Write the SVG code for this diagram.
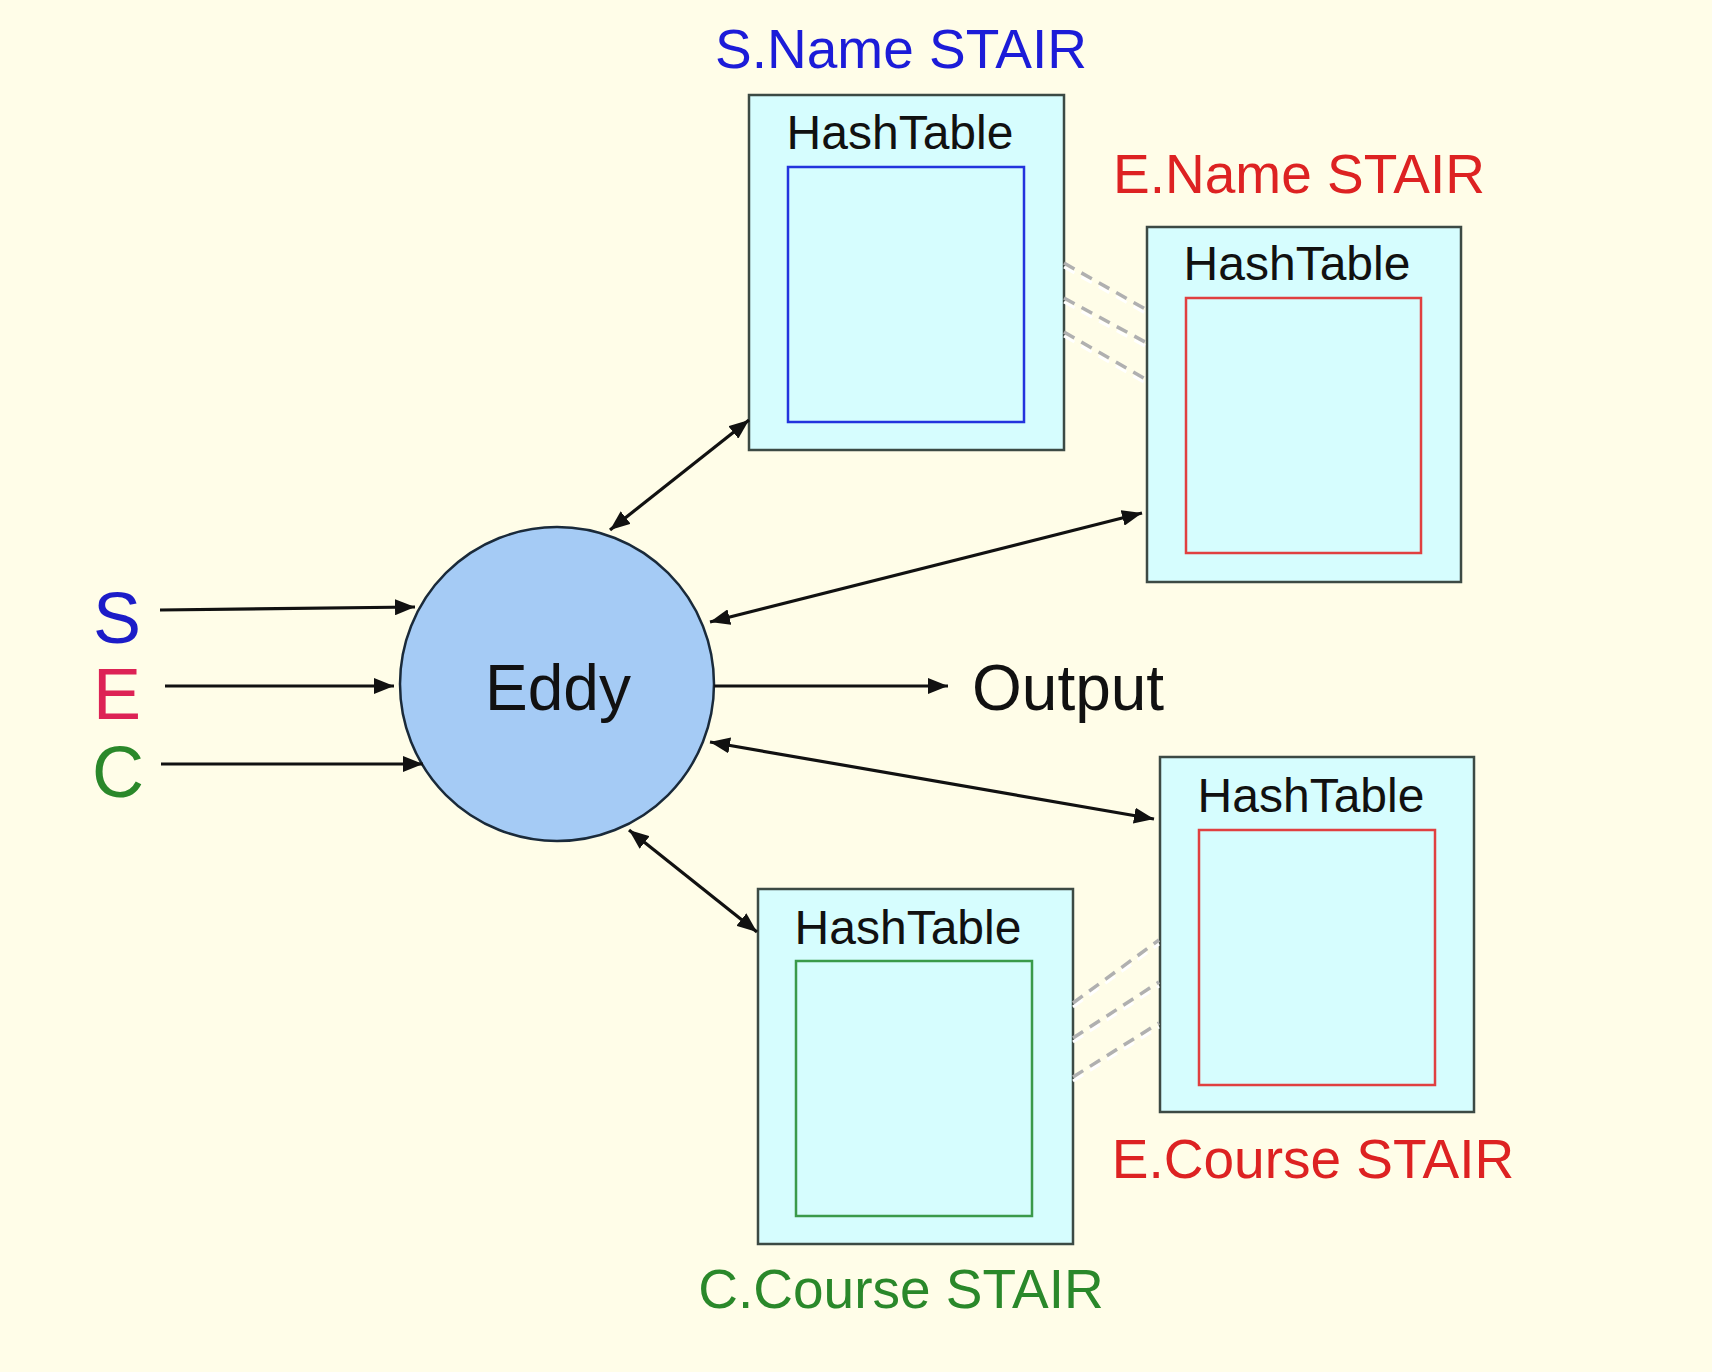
<svg xmlns="http://www.w3.org/2000/svg" width="1712" height="1372" viewBox="0 0 1712 1372">
<style>
.box{fill:#D6FDFE;stroke:#3C4A44;stroke-width:2.5}
.inner{fill:#D6FDFE;stroke-width:2.5}
.t{font-family:"Liberation Sans",Arial,Helvetica,sans-serif}
.ht{font-size:48px;fill:#111;text-anchor:middle}
.lbl{font-size:55px;text-anchor:middle}
.conn{stroke:#111;stroke-width:3.2;fill:none}
.hatchw{stroke:#ffffff;stroke-width:3;fill:none;stroke-dasharray:12 8}
.hatch{stroke:#b0b0b0;stroke-width:3.5;fill:none;stroke-dasharray:12 8}
</style>
<defs>
<marker id="ah" viewBox="0 0 20 16" refX="20" refY="8" markerWidth="20" markerHeight="16" markerUnits="userSpaceOnUse" orient="auto-start-reverse">
<path d="M0,0 L20,8 L0,16 z" fill="#111"/>
</marker>
</defs>
<rect x="0" y="0" width="1712" height="1372" fill="#FFFDE8"/>

<g id="sname-stair">
<text class="t lbl" x="901" y="68" fill="#1C1CD8">S.Name STAIR</text>
<rect class="box" x="749" y="95" width="315" height="355"/>
<text class="t ht" x="900" y="149">HashTable</text>
<rect class="inner" x="788" y="167" width="236" height="255" stroke="#2233DD"/>
</g>

<g id="ename-stair">
<text class="t lbl" x="1299" y="193" fill="#DD2222">E.Name STAIR</text>
<rect class="box" x="1147" y="227" width="314" height="355"/>
<text class="t ht" x="1297" y="280">HashTable</text>
<rect class="inner" x="1186" y="298" width="235" height="255" stroke="#E04040"/>
</g>

<g id="ecourse-stair">
<rect class="box" x="1160" y="757" width="314" height="355"/>
<text class="t ht" x="1311" y="812">HashTable</text>
<rect class="inner" x="1199" y="830" width="236" height="255" stroke="#E04040"/>
<text class="t lbl" x="1313" y="1178" fill="#DD2222">E.Course STAIR</text>
</g>

<g id="ccourse-stair">
<rect class="box" x="758" y="889" width="315" height="355"/>
<text class="t ht" x="908" y="944">HashTable</text>
<rect class="inner" x="796" y="961" width="236" height="255" stroke="#3A9A4A"/>
<text class="t lbl" x="901" y="1308" fill="#2A882A">C.Course STAIR</text>
</g>

<g id="eddy">
<circle cx="557" cy="684" r="157" fill="#A5CBF5" stroke="#1A2A3A" stroke-width="2.5"/>
<text class="t" x="558" y="710" font-size="64" fill="#111" text-anchor="middle">Eddy</text>
</g>

<g id="inputs">
<text class="t" x="117" y="643" font-size="72" fill="#1C1CC8" text-anchor="middle">S</text>
<text class="t" x="117" y="719" font-size="72" fill="#DD2255" text-anchor="middle">E</text>
<text class="t" x="118" y="797" font-size="72" fill="#2A882A" text-anchor="middle">C</text>
</g>

<g id="output">
<text class="t" x="972" y="710" font-size="64" fill="#111">Output</text>
</g>

<g id="connectors">
<line class="conn" x1="160" y1="610" x2="415" y2="607" marker-end="url(#ah)"/>
<line class="conn" x1="165" y1="686" x2="394" y2="686" marker-end="url(#ah)"/>
<line class="conn" x1="161" y1="764" x2="423" y2="764" marker-end="url(#ah)"/>
<line class="conn" x1="714" y1="686" x2="948" y2="686" marker-end="url(#ah)"/>
<line class="conn" x1="610" y1="530" x2="749" y2="420" marker-start="url(#ah)" marker-end="url(#ah)"/>
<line class="conn" x1="710" y1="622" x2="1142" y2="513" marker-start="url(#ah)" marker-end="url(#ah)"/>
<line class="conn" x1="710" y1="742" x2="1154" y2="819" marker-start="url(#ah)" marker-end="url(#ah)"/>
<line class="conn" x1="629" y1="830" x2="757" y2="932" marker-start="url(#ah)" marker-end="url(#ah)"/>
</g>

<g id="hatching">
<line class="hatchw" x1="1064" y1="267" x2="1147" y2="314"/>
<line class="hatchw" x1="1064" y1="302" x2="1147" y2="347"/>
<line class="hatchw" x1="1064" y1="336" x2="1147" y2="384"/>
<line class="hatch" x1="1064" y1="263" x2="1147" y2="310"/>
<line class="hatch" x1="1064" y1="298" x2="1147" y2="343"/>
<line class="hatch" x1="1064" y1="332" x2="1147" y2="380"/>
<line class="hatchw" x1="1073" y1="1007" x2="1159" y2="944"/>
<line class="hatchw" x1="1073" y1="1042" x2="1159" y2="986"/>
<line class="hatchw" x1="1073" y1="1081" x2="1159" y2="1027"/>
<line class="hatch" x1="1073" y1="1003" x2="1159" y2="940"/>
<line class="hatch" x1="1073" y1="1038" x2="1159" y2="982"/>
<line class="hatch" x1="1073" y1="1077" x2="1159" y2="1023"/>
</g>
</svg>
